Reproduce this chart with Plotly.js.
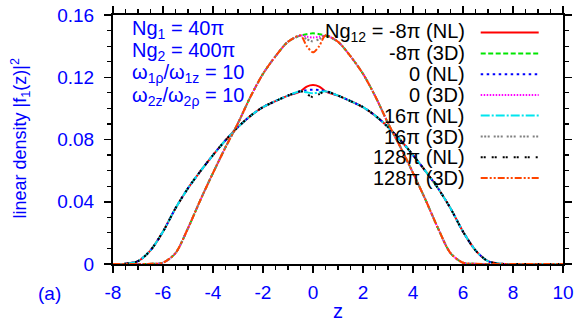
<!DOCTYPE html>
<html>
<head>
<meta charset="utf-8">
<script src="https://cdn.plot.ly/plotly-3.0.1.min.js"></script>
<style>
  html, body { margin: 0; padding: 0; background: white; }
  #plot-area { width: 581px; height: 332px; }
</style>
</head>
<body>
<div id="plot-area"></div>
<script>
// --- data ---
const zVals = [-8, -7.5, -7, -6.5, -6, -5.5, -5, -4.5, -4, -3.5, -3, -2.5, -2, -1.5, -1, -0.5,
  -0.25, 0, 0.25,
  0.5, 1, 1.5, 2, 2.5, 3, 3.5, 4, 4.5, 5, 5.5, 6, 6.5, 7, 7.5, 8, 10];

// NL (wide) curves
const nlMinus8 = [0, 0.0002, 0.0018, 0.0088, 0.0208, 0.0358, 0.0487, 0.0597, 0.0700, 0.0795, 0.0880, 0.0952, 0.1008, 0.1047, 0.1082, 0.1110,
  0.1140, 0.1150, 0.1140,
  0.1110, 0.1082, 0.1047, 0.1008, 0.0952, 0.0880, 0.0795, 0.0700, 0.0597, 0.0487, 0.0358, 0.0208, 0.0088, 0.0018, 0.0002, 0, 0];
const nlZero = [0, 0.0002, 0.0018, 0.0088, 0.0208, 0.0358, 0.0487, 0.0597, 0.0700, 0.0795, 0.0880, 0.0952, 0.1008, 0.1047, 0.1082, 0.1110,
  0.1117, 0.1120, 0.1117,
  0.1110, 0.1082, 0.1047, 0.1008, 0.0952, 0.0880, 0.0795, 0.0700, 0.0597, 0.0487, 0.0358, 0.0208, 0.0088, 0.0018, 0.0002, 0, 0];
const nl16 = [0, 0.0002, 0.0018, 0.0088, 0.0208, 0.0358, 0.0487, 0.0597, 0.0700, 0.0795, 0.0880, 0.0952, 0.1008, 0.1047, 0.1082, 0.1110,
  0.1103, 0.1097, 0.1103,
  0.1110, 0.1082, 0.1047, 0.1008, 0.0952, 0.0880, 0.0795, 0.0700, 0.0597, 0.0487, 0.0358, 0.0208, 0.0088, 0.0018, 0.0002, 0, 0];
const nl128 = [0, 0.0002, 0.0018, 0.0088, 0.0208, 0.0358, 0.0487, 0.0597, 0.0700, 0.0795, 0.0880, 0.0952, 0.1008, 0.1047, 0.1082, 0.1110,
  0.1092, 0.1072, 0.1092,
  0.1110, 0.1082, 0.1047, 0.1008, 0.0952, 0.0880, 0.0795, 0.0700, 0.0597, 0.0487, 0.0358, 0.0208, 0.0088, 0.0018, 0.0002, 0, 0];

// 3D (narrow) curves
const tdMinus8 = [0, 0, 0, 0.0001, 0.0008, 0.0070, 0.0230, 0.0413, 0.0585, 0.0750, 0.0905, 0.1075, 0.1222, 0.1335, 0.1428, 0.1468,
  0.1477, 0.1482, 0.1477,
  0.1468, 0.1428, 0.1335, 0.1222, 0.1075, 0.0905, 0.0750, 0.0585, 0.0413, 0.0230, 0.0070, 0.0008, 0.0001, 0, 0, 0, 0];
const tdZero = [0, 0, 0, 0.0001, 0.0008, 0.0070, 0.0230, 0.0413, 0.0585, 0.0750, 0.0905, 0.1075, 0.1222, 0.1335, 0.1428, 0.1468,
  0.1460, 0.1455, 0.1460,
  0.1468, 0.1428, 0.1335, 0.1222, 0.1075, 0.0905, 0.0750, 0.0585, 0.0413, 0.0230, 0.0070, 0.0008, 0.0001, 0, 0, 0, 0];
const td16 = [0, 0, 0, 0.0001, 0.0008, 0.0070, 0.0230, 0.0413, 0.0585, 0.0750, 0.0905, 0.1075, 0.1222, 0.1335, 0.1428, 0.1468,
  0.1445, 0.1430, 0.1445,
  0.1468, 0.1428, 0.1335, 0.1222, 0.1075, 0.0905, 0.0750, 0.0585, 0.0413, 0.0230, 0.0070, 0.0008, 0.0001, 0, 0, 0, 0];
const td128 = [0, 0, 0, 0.0001, 0.0008, 0.0070, 0.0230, 0.0413, 0.0585, 0.0750, 0.0905, 0.1075, 0.1222, 0.1335, 0.1428, 0.1468,
  0.1400, 0.1360, 0.1400,
  0.1468, 0.1428, 0.1335, 0.1222, 0.1075, 0.0905, 0.0750, 0.0585, 0.0413, 0.0230, 0.0070, 0.0008, 0.0001, 0, 0, 0, 0];

const seriesLabels = ['Ng<sub>12</sub> = -8π (NL)', '-8π (3D)', '0 (NL)', '0 (3D)', '16π (NL)', '16π (3D)', '128π (NL)', '128π (3D)'];
const seriesValues = [nlMinus8, tdMinus8, nlZero, tdZero, nl16, td16, nl128, td128];

const xTickVals = [-8, -6, -4, -2, 0, 2, 4, 6, 8, 10];
const xTickText = ['-8', '-6', '-4', '-2', '0', '2', '4', '6', '8', '10'];
const yTickVals = [0, 0.04, 0.08, 0.12, 0.16];
const yTickText = ['0', '0.04', '0.08', '0.12', '0.16'];

const paramLines = ['Ng<sub>1</sub> = 40π', 'Ng<sub>2</sub> = 400π', 'ω<sub>1ρ</sub>/ω<sub>1z</sub> = 10', 'ω<sub>2z</sub>/ω<sub>2ρ</sub> = 10'];

// --- styles ---
const FONT = 'Liberation Sans, Arial, Helvetica, sans-serif';
const BLUE = '#0000ff';
const styles = [
    { color: '#ff0000', dash: 'solid' },
    { color: '#00e600', dash: '5px,2.5px' },
    { color: '#0000ff', dash: '2.5px,3.5px' },
    { color: '#ff00ff', dash: '1.5px,1.5px' },
    { color: '#00e5ee', dash: '9px,2px,2px,2px' },
    { color: '#808080', dash: '2px,1.5px,2px,1.5px,2px,4px' },
    { color: '#000000', dash: '2px,1px,2px,6px' },
    { color: '#ff4500', dash: '7px,2px,2px,2px,2px,2px' }
];

// plot area in pixels: x 113..563, y 15..264
const legendRowsPx = [32.5, 53.5, 74.3, 95, 115.7, 136.7, 157.3, 178.3];
const paramRowsPx = [30, 52, 74, 97];
const toPaperY = py => (264.3 - py) / 249.3;
const toPaperX = px => (px - 113.3) / 450;

const data = seriesValues.map((vals, i) => ({
    x: zVals,
    y: vals,
    type: 'scatter',
    mode: 'lines',
    name: seriesLabels[i],
    line: { color: styles[i].color, dash: styles[i].dash, width: 2, shape: 'spline', smoothing: 0.8 },
    hoverinfo: 'none'
}));

const annotations = [];
const shapes = [];

// legend (text right, sample line on its right side)
seriesLabels.forEach((lab, i) => {
    const y = toPaperY(legendRowsPx[i]);
    annotations.push({
        xref: 'paper', yref: 'paper', x: toPaperX(467), y: y,
        xanchor: 'right', yanchor: 'middle', showarrow: false,
        text: lab, font: { family: FONT, size: 20, color: '#000000' }
    });
    shapes.push({
        type: 'line', xref: 'paper', yref: 'paper',
        x0: toPaperX(481), x1: toPaperX(539), y0: y, y1: y,
        line: { color: styles[i].color, dash: styles[i].dash, width: 2 }
    });
});

// parameter block
paramLines.forEach((t, i) => {
    annotations.push({
        xref: 'paper', yref: 'paper', x: toPaperX(130), y: toPaperY(paramRowsPx[i]),
        xanchor: 'left', yanchor: 'middle', showarrow: false,
        text: t, font: { family: FONT, size: 20, color: BLUE }
    });
});

// axis titles and panel label
annotations.push({
    xref: 'paper', yref: 'paper', x: toPaperX(21), y: toPaperY(139),
    xanchor: 'center', yanchor: 'middle', textangle: -90, showarrow: false,
    text: 'linear density |f<sub>1</sub>(z)|<sup>2</sup>', font: { family: FONT, size: 18, color: BLUE }
});
annotations.push({
    xref: 'paper', yref: 'paper', x: 0.5, y: toPaperY(311),
    xanchor: 'center', yanchor: 'middle', showarrow: false,
    text: 'z', font: { family: FONT, size: 20, color: BLUE }
});
annotations.push({
    xref: 'paper', yref: 'paper', x: toPaperX(50), y: toPaperY(294),
    xanchor: 'center', yanchor: 'middle', showarrow: false,
    text: '(a)', font: { family: FONT, size: 19, color: BLUE }
});

const axisCommon = {
    showline: true, linecolor: '#000000', linewidth: 2,
    mirror: 'ticks', ticks: 'outside', ticklen: 7, tickwidth: 1.5, tickcolor: '#000000',
    showgrid: false, zeroline: false,
    tickfont: { family: FONT, size: 19, color: BLUE },
    tickmode: 'array'
};

const layout = {
    width: 581, height: 332,
    margin: { l: 113, r: 18, t: 15, b: 68 },
    showlegend: false,
    plot_bgcolor: 'white', paper_bgcolor: 'white',
    xaxis: Object.assign({}, axisCommon, {
        range: [-8, 10], tickvals: xTickVals, ticktext: xTickText, ticklabelstandoff: 3,
        minor: { tickmode: 'linear', tick0: -8, dtick: 0.5, ticks: 'outside', ticklen: 4, tickwidth: 1.2, tickcolor: '#000000' }
    }),
    yaxis: Object.assign({}, axisCommon, {
        range: [0, 0.16], tickvals: yTickVals, ticktext: yTickText, ticklabelstandoff: 6,
        minor: { tickmode: 'linear', tick0: 0, dtick: 0.01, ticks: 'outside', ticklen: 4, tickwidth: 1.2, tickcolor: '#000000' }
    }),
    annotations: annotations,
    shapes: shapes
};

Plotly.newPlot('plot-area', data, layout, { displayModeBar: false, staticPlot: true });
</script>
</body>
</html>
